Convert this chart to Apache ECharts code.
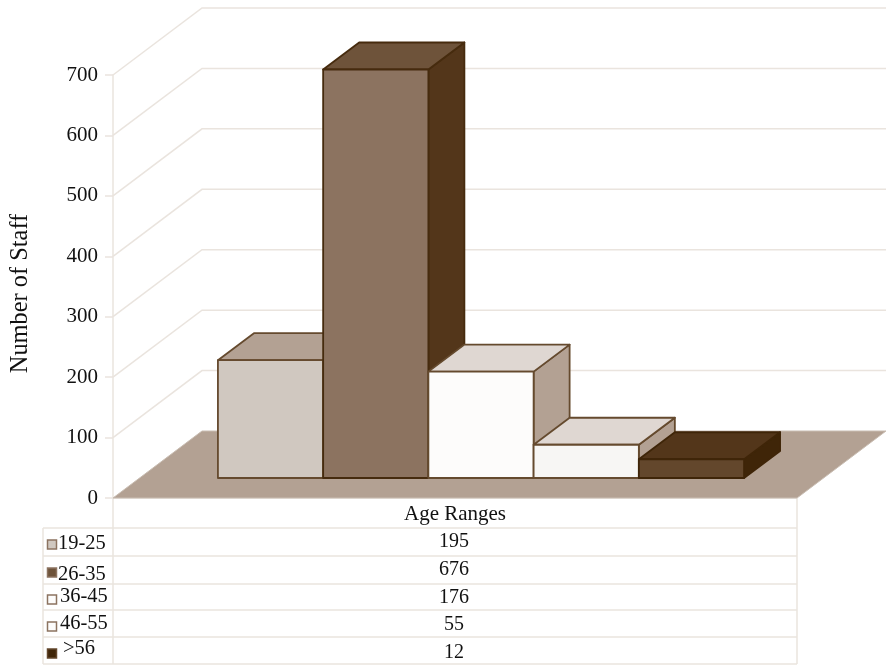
<!DOCTYPE html>
<html><head><meta charset="utf-8">
<style>html,body{margin:0;padding:0;background:#fff}#c{width:889px;height:666px}</style>
<script src="https://cdn.jsdelivr.net/npm/echarts@6/dist/echarts.min.js"></script>
</head><body><div id="c"></div>
<script>
const categories = ['Age Ranges'];
const seriesNames = ['19-25', '26-35', '36-45', '46-55', '>56'];
const tableValues = [195, 676, 176, 55, 12];
const barHeights = [195, 676, 176, 55, 31];
const yTicks = [100, 200, 300, 400, 500, 600, 700];

const palette = [
  {front:'#D0C8C0', top:'#B3A193', side:'#B3A193', line:'#654A2E', swatch:'#D0C8C0', swLine:'#8C7360'},
  {front:'#8C7360', top:'#6E533A', side:'#53361A', line:'#462B0E', swatch:'#6E533A', swLine:'#8C7360'},
  {front:'#FDFCFB', top:'#DFD7D2', side:'#B3A193', line:'#654A2E', swatch:'#FDFCFB', swLine:'#8C7360'},
  {front:'#F7F6F4', top:'#DFD7D2', side:'#B3A193', line:'#654A2E', swatch:'#FDFCFB', swLine:'#8C7360'},
  {front:'#63472C', top:'#53361A', side:'#3F2508', line:'#3F2508', swatch:'#3F2508', swLine:'#63472C'}
];
const FONT = '"Liberation Serif"', TXT = '#111', GRID = '#EAE4DE', FLOOR = '#B3A193';
const wallDx = 89, wallDy = 67, insetDx = 26, insetDy = 20, depthDx = 36, depthDy = 27;

const rowLines = [498, 528, 556, 584, 610, 637, 664];
const valueY = [542, 570, 598, 625, 653];
const labelX = [58, 58, 60, 60, 63];
const labelY = [544, 575, 597, 624, 649];
const swatchY = [540, 568, 595, 622, 649];

const gridEls = [];
const ln = (x1,y1,x2,y2) => ({type:'line', shape:{x1,y1,x2,y2}, style:{stroke:GRID, lineWidth:1.5}, silent:true});
rowLines.forEach((y,i) => gridEls.push(ln(i === 0 ? 113 : 43, y, 797, y)));
gridEls.push(ln(43,528,43,664), ln(113,498,113,664), ln(797,498,797,664));
seriesNames.forEach((n,i) => {
  gridEls.push({type:'rect', shape:{x:47.5, y:swatchY[i], width:9, height:9},
    style:{fill:palette[i].swatch, stroke:palette[i].swLine, lineWidth:1.5}, silent:true});
  gridEls.push({type:'text', x:labelX[i], y:labelY[i],
    style:{text:n, font:'20.5px '+FONT, fill:TXT, verticalAlign:'middle'}, silent:true});
  gridEls.push({type:'text', x:454, y:valueY[i],
    style:{text:String(tableValues[i]), font:'20px '+FONT, fill:TXT, align:'center', verticalAlign:'middle'}, silent:true});
});

function wallItem(params, api) {
  const cs = params.coordSys;
  const y = api.coord([0, api.value(1)])[1];
  return {type:'polyline', shape:{points:[[cs.x,y],[cs.x+wallDx,y-wallDy],[cs.x+cs.width+wallDx,y-wallDy]]},
    style:{stroke:GRID, lineWidth:1.5, fill:null}};
}
function floorItem(params, api) {
  const cs = params.coordSys;
  const y = api.coord([0, 0])[1];
  const xl = cs.x, xr = cs.x + cs.width;
  return {type:'polygon', shape:{points:[[xl,y],[xr,y],[xr+wallDx,y-wallDy],[xl+wallDx,y-wallDy]]},
    style:{fill:FLOOR, stroke:'#C9BDB2', lineWidth:1}};
}
const barItem = idx => (params, api) => {
  const cs = params.coordSys;
  const w = cs.width / 6.5;
  const c = palette[idx];
  const base = api.coord([0, 0]), top = api.coord([0, api.value(1)]);
  const x0 = base[0] + insetDx + (idx - seriesNames.length/2) * w, x1 = x0 + w;
  const yb = base[1] - insetDy, yt = top[1] - insetDy;
  const st = f => ({fill:f, stroke:c.line, lineWidth:1.8, lineJoin:'round'});
  return {type:'group', children:[
    {type:'polygon', shape:{points:[[x1,yb],[x1+depthDx,yb-depthDy],[x1+depthDx,yt-depthDy],[x1,yt]]}, style:st(c.side)},
    {type:'polygon', shape:{points:[[x0,yt],[x0+depthDx,yt-depthDy],[x1+depthDx,yt-depthDy],[x1,yt]]}, style:st(c.top)},
    {type:'rect', shape:{x:x0, y:yt, width:w, height:yb-yt}, style:st(c.front)}
  ]};
};

const chart = echarts.init(document.getElementById('c'), null, {renderer:'canvas'});
chart.setOption({
  animation:false,
  backgroundColor:'#fff',
  grid:{left:113, width:684, top:75, height:423, containLabel:false, outerBoundsMode:'none'},
  xAxis:{type:'category', data:categories, axisLine:{show:false}, axisTick:{show:false}, splitLine:{show:false},
    axisLabel:{color:TXT, fontFamily:FONT, fontSize:21, margin:6}},
  yAxis:{type:'value', min:0, max:700, interval:100, name:'Number of Staff', nameLocation:'middle', nameRotate:90, nameGap:80,
    nameTextStyle:{color:TXT, fontFamily:FONT, fontSize:24.4, padding:[0,14,0,0]},
    axisLine:{show:true, lineStyle:{color:GRID, width:1.5}},
    axisTick:{show:true, length:8, lineStyle:{color:GRID, width:1.5}},
    splitLine:{show:false},
    axisLabel:{color:TXT, fontFamily:FONT, fontSize:21, margin:15, padding:[8,0,0,0]}},
  graphic:{elements:gridEls},
  series:[
    {type:'custom', name:'walls', renderItem:wallItem, clip:false, silent:true, z:1, encode:{x:0,y:1},
      data:yTicks.map(v => [0, v])},
    {type:'custom', name:'floor', renderItem:floorItem, clip:false, silent:true, z:2, encode:{x:0,y:1},
      data:[[0, 0]]},
    ...seriesNames.map((n,i) => ({type:'custom', name:n, renderItem:barItem(i), clip:false, z:3+i, encode:{x:0,y:1},
      data:[[0, barHeights[i]]]}))
  ]
});
</script></body></html>
